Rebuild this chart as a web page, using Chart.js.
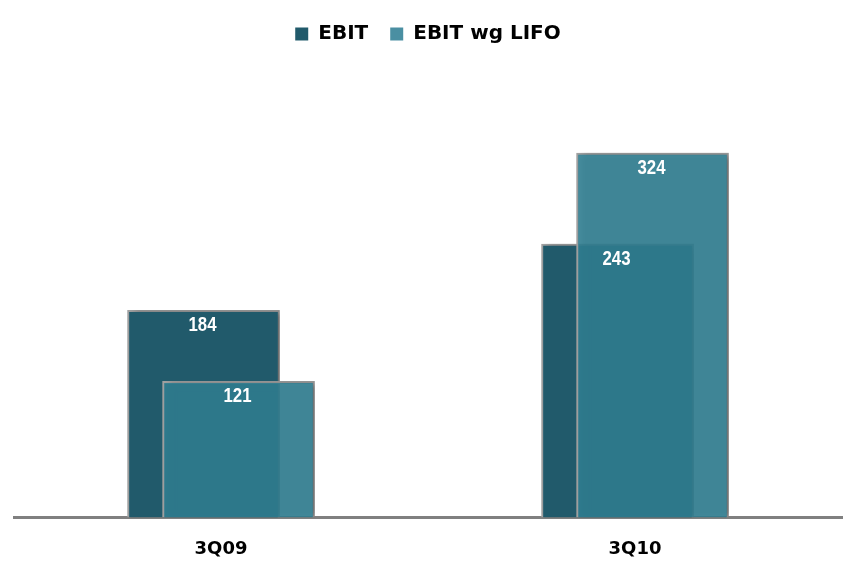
<!DOCTYPE html>
<html><head><meta charset="utf-8">
<script src="https://cdn.jsdelivr.net/npm/chart.js@4/dist/chart.umd.min.js"></script>
<style>html,body{margin:0;padding:0;background:#fff}#wrap{width:857px;height:578px}</style>
</head><body><div id="wrap"><canvas id="c" width="857" height="578"></canvas></div>
<script>
const categories = ['3Q09', '3Q10'];
const seriesNames = ['EBIT', 'EBIT wg LIFO'];
const ebit = [184, 243];
const ebitLifo = [121, 324];

const shift = 0.0423;
const legendColors = ['#215A6B', '#4A8FA2'];
const shadowPlugin = {
  id: 'shadow',
  beforeDatasetDraw(chart) {
    const ctx = chart.ctx; ctx.save();
    ctx.shadowColor = 'rgba(0,0,0,0.35)'; ctx.shadowBlur = 7; ctx.shadowOffsetX = 5; ctx.shadowOffsetY = 0;
  },
  afterDatasetDraw(chart) { chart.ctx.restore(); }
};
const valuePlugin = {
  id: 'values',
  afterDatasetsDraw(chart) {
    const ctx = chart.ctx;
    chart.data.datasets.forEach((ds, di) => {
      chart.getDatasetMeta(di).data.forEach((el, i) => {
        ctx.save();
        ctx.fillStyle = '#fff'; ctx.font = 'bold 21px "Liberation Sans", Arial';
        ctx.textAlign = 'center'; ctx.textBaseline = 'middle';
        ctx.translate(el.x - 1, el.y + 15);
        ctx.scale(0.8, 1);
        ctx.fillText(String(ds.data[i].y), 0, 0);
        ctx.restore();
      });
    });
  }
};

new Chart(document.getElementById('c'), {
  type: 'bar',
  data: {
    datasets: [
      { label: seriesNames[0], data: categories.map((c, i) => ({x: i - shift, y: ebit[i]})),
        backgroundColor: '#215A6B', borderColor: '#a2a2a2', borderWidth: 2, borderSkipped: 'bottom',
        barThickness: 152, grouped: false, order: 2 },
      { label: seriesNames[1], data: categories.map((c, i) => ({x: i + shift, y: ebitLifo[i]})),
        backgroundColor: 'rgba(48,127,146,0.89)', borderColor: '#a2a2a2', borderWidth: 2, borderSkipped: 'bottom',
        barThickness: 152, grouped: false, order: 1 }
    ]
  },
  options: {
    responsive: false, animation: false,
    layout: { padding: { left: 14, right: 15, top: 2, bottom: -3 } },
    plugins: {
      tooltip: { enabled: false },
      legend: {
        position: 'top',
        labels: {
          font: { family: '"DejaVu Sans", Verdana', size: 20, weight: 'bold' }, color: '#000',
          boxWidth: 13, boxHeight: 13, padding: 22,
          sort: (a, b) => a.datasetIndex - b.datasetIndex,
          generateLabels(chart) {
            return Chart.defaults.plugins.legend.labels.generateLabels(chart).map((l) => {
              l.fillStyle = legendColors[l.datasetIndex]; l.strokeStyle = l.fillStyle; l.lineWidth = 0; return l;
            });
          }
        }
      }
    },
    scales: {
      x: {
        type: 'linear', min: -0.5, max: 1.5, offset: false,
        afterBuildTicks(axis) { axis.ticks = categories.map((c, i) => ({ value: i })); },
        ticks: { callback: (v) => categories[v], font: { family: '"DejaVu Sans", Verdana', size: 18, weight: 'bold' }, color: '#000', padding: 21, autoSkip: false, maxRotation: 0 },
        grid: { display: false, drawTicks: false },
        border: { display: true, color: '#808080', width: 3 }
      },
      y: { display: false, min: 0, max: 412, grid: { display: false } }
    }
  },
  plugins: [shadowPlugin, valuePlugin]
});
</script></body></html>
